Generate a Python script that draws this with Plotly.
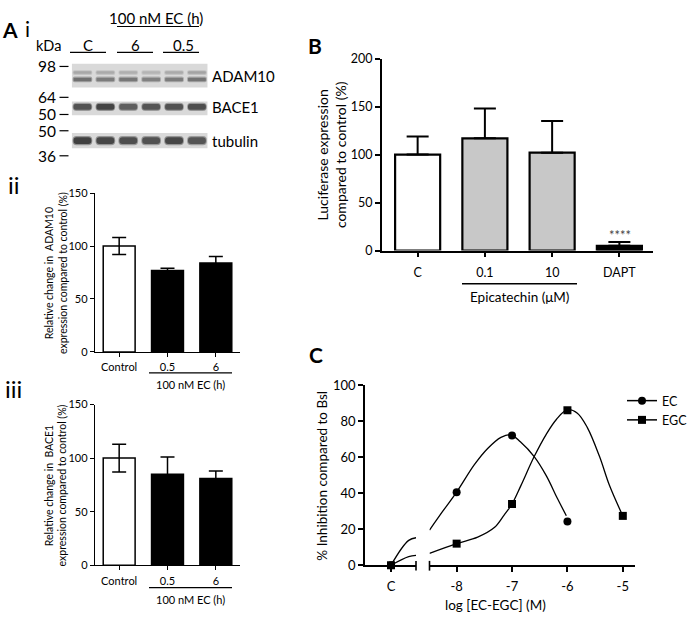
import plotly.graph_objects as go

W, H = 693, 621
def px(x): return x / W
def py(y): return 1 - y / H

FONT = "Lato"

# ---------------- data ----------------
# A i: western blot (relative band darkness per lane)
lanes = [1, 2, 3, 4, 5, 6]
adam10_upper = [0.30, 0.28, 0.25, 0.22, 0.28, 0.32]
adam10_lower = [0.62, 0.55, 0.58, 0.52, 0.55, 0.60]
bace1_band = [0.80, 0.88, 0.72, 0.78, 0.80, 0.82]
tubulin_band = [0.90, 0.86, 0.82, 0.80, 0.86, 0.78]
kda_labels = ["98", "64", "50", "50", "36"]
blot_proteins = ["ADAM10", "BACE1", "tubulin"]
lane_groups = ["C", "6", "0.5"]

# A ii / iii
a_cats = ["Control", "0.5", "6"]
adam10_mean = [100, 77, 84]
adam10_err = [8, 2, 6]
bace1_mean = [100, 85, 81]
bace1_err = [13, 16, 7]

# B
b_cats = ["C", "0.1", "10", "DAPT"]
luc_mean = [100, 117, 102, 5]
luc_err = [19, 31, 33, 4]

# C
c_label = ["C"]
c_control = [0]
doses = [-8, -7, -6, -5]
ec_vals = [40.5, 72, 24.3]
egc_vals = [12, 34, 86, 27.4]
# fitted curves
ec_fit1_x = [0, 0.32, 0.49]
ec_fit1_y = [0, 13.8, 15.4]
egc_fit1_x = [0, 0.32, 0.49]
egc_fit1_y = [0, 4.8, 5.5]
ec_fit2_x = [-8.49, -8.25, -8.0, -7.68, -7.44, -7.2, -7.02, -6.85, -6.6, -6.38, -6.18, -6.02]
ec_fit2_y = [19.5, 30, 40.6, 55.8, 64.8, 71.0, 72.4, 68.5, 60.3, 49.6, 37, 27.5]
egc_fit2_x = [-8.49, -8.0, -7.62, -7.32, -7.14, -7.0, -6.84, -6.6, -6.38, -6.2, -6.0,
              -5.82, -5.64, -5.42, -5.24, -5.0]
egc_fit2_y = [6.6, 12, 15.6, 20.9, 28, 34, 44.2, 60.3, 72.8, 80.9, 86.3,
              84.4, 76.4, 60.3, 44.2, 27.4]

# ---------------- figure ----------------
fig = go.Figure()

def gray(i):
    g = int(218 - 170 * i)
    return f"rgb({g},{g},{g})"

def halo(i):
    g = int(218 - 80 * i)
    return f"rgb({g},{g},{g})"

# blot strips
fig.add_trace(go.Bar(x=[3.5, 3.5, 3.5], base=[57.3, 96, 128.3], y=[24.4, 14, 15.7],
                     width=5.92, marker=dict(color="#d9d9d9", line=dict(width=0)),
                     xaxis="x", yaxis="y", showlegend=False, hoverinfo="skip"))
# bands: (values, centre, height)
for vals, c, h in [(adam10_upper, 66.3, 2.6), (adam10_lower, 73.3, 3.6),
                   (bace1_band, 101.5, 6.0), (tubulin_band, 136.2, 7.0)]:
    fig.add_trace(go.Bar(x=lanes, base=[c - h / 2 - 1.2] * 6, y=[h + 2.4] * 6, width=0.86,
                         marker=dict(color=[halo(v) for v in vals], line=dict(width=0), cornerradius=4),
                         xaxis="x", yaxis="y", showlegend=False, hoverinfo="skip"))
    fig.add_trace(go.Bar(x=lanes, base=[c - h / 2] * 6, y=[h] * 6, width=0.78,
                         marker=dict(color=[gray(v) for v in vals], line=dict(width=0), cornerradius=3),
                         xaxis="x", yaxis="y", showlegend=False, hoverinfo="skip"))

# A ii
fig.add_trace(go.Bar(x=[0, 1, 2], y=adam10_mean, width=0.66,
                     marker=dict(color=["white", "black", "black"], line=dict(color="black", width=1.5)),
                     error_y=dict(type="data", array=adam10_err, width=7, thickness=1.5, color="black"),
                     xaxis="x2", yaxis="y2", showlegend=False))
# A iii
fig.add_trace(go.Bar(x=[0, 1, 2], y=bace1_mean, width=0.66,
                     marker=dict(color=["white", "black", "black"], line=dict(color="black", width=1.5)),
                     error_y=dict(type="data", array=bace1_err, width=7, thickness=1.5, color="black"),
                     xaxis="x3", yaxis="y3", showlegend=False))
# B
fig.add_trace(go.Bar(x=[0, 1, 2, 3], y=luc_mean, width=0.67,
                     marker=dict(color=["white", "#c8c8c8", "#c8c8c8", "black"],
                                 line=dict(color="black", width=2.2)),
                     error_y=dict(type="data", symmetric=False, array=luc_err, arrayminus=[0, 0, 0, 0],
                                  width=11, thickness=2, color="black"),
                     xaxis="x4", yaxis="y4", showlegend=False))

# C fits
line_style = dict(color="black", width=1.3, shape="spline")
for fx, fy in [(ec_fit1_x, ec_fit1_y), (egc_fit1_x, egc_fit1_y)]:
    fig.add_trace(go.Scatter(x=fx, y=fy, mode="lines", line=line_style,
                             xaxis="x5", yaxis="y5", showlegend=False, hoverinfo="skip"))
for fx, fy in [(ec_fit2_x, ec_fit2_y), (egc_fit2_x, egc_fit2_y)]:
    fig.add_trace(go.Scatter(x=fx, y=fy, mode="lines", line=line_style,
                             xaxis="x6", yaxis="y5", showlegend=False, hoverinfo="skip"))
# C points
fig.add_trace(go.Scatter(x=doses[:3], y=ec_vals, mode="markers", cliponaxis=False,
                         marker=dict(symbol="circle", size=8, color="black"),
                         xaxis="x6", yaxis="y5", showlegend=False))
fig.add_trace(go.Scatter(x=doses, y=egc_vals, mode="markers", cliponaxis=False,
                         marker=dict(symbol="square", size=8, color="black"),
                         xaxis="x6", yaxis="y5", showlegend=False))
fig.add_trace(go.Scatter(x=[0], y=c_control, mode="markers", cliponaxis=False,
                         marker=dict(symbol="circle", size=8, color="black"),
                         xaxis="x5", yaxis="y5", showlegend=False))
fig.add_trace(go.Scatter(x=[0], y=c_control, mode="markers", cliponaxis=False,
                         marker=dict(symbol="square", size=8, color="black"),
                         xaxis="x5", yaxis="y5", showlegend=False))
# legend entries
fig.add_trace(go.Scatter(x=[None], y=[None], mode="lines+markers", name="EC",
                         marker=dict(symbol="circle", size=8, color="black"),
                         line=dict(color="black", width=1.5), xaxis="x6", yaxis="y5"))
fig.add_trace(go.Scatter(x=[None], y=[None], mode="lines+markers", name="EGC",
                         marker=dict(symbol="square", size=8, color="black"),
                         line=dict(color="black", width=1.5), xaxis="x6", yaxis="y5"))

# ---------------- axes ----------------
def ax(domain, rng, lw=1.4, tl=4, font=11, **kw):
    d = dict(domain=domain, range=rng, showgrid=False, zeroline=False, showline=True,
             linecolor="black", linewidth=lw, ticks="outside", ticklen=tl, tickwidth=lw,
             tickcolor="black", tickfont=dict(family=FONT, size=font, color="black"),
             fixedrange=True)
    d.update(kw)
    return d

hidden = dict(visible=False, showgrid=False, zeroline=False, fixedrange=True)

layout = dict(
    width=W, height=H, margin=dict(l=0, r=0, t=0, b=0),
    paper_bgcolor="white", plot_bgcolor="rgba(0,0,0,0)",
    barmode="overlay", font=dict(family=FONT, color="black"),
    xaxis=dict(domain=[px(71), px(208.4)], range=[0.5, 6.5], anchor="y", **hidden),
    yaxis=dict(domain=[py(160), py(50)], range=[160, 50], anchor="x", **hidden),
    xaxis2=ax([px(95), px(240)], [-0.5, 2.5], anchor="y2", tickvals=[0, 1, 2], ticktext=a_cats,
              ticklabelstandoff=1),
    yaxis2=ax([py(353), py(190)], [0, 150], anchor="x2", tickvals=[0, 50, 100, 150]),
    xaxis3=ax([px(95), px(240)], [-0.5, 2.5], anchor="y3", tickvals=[0, 1, 2], ticktext=a_cats,
              ticklabelstandoff=1),
    yaxis3=ax([py(572), py(407)], [0, 150], anchor="x3", tickvals=[0, 50, 100, 150]),
    xaxis4=ax([px(382), px(653)], [-0.53, 3.5], lw=1.8, tl=5, font=12.5, anchor="y4",
              tickvals=[0, 1, 2, 3], ticktext=b_cats, ticklabelstandoff=5),
    yaxis4=ax([py(249), py(52)], [0, 200], lw=1.8, tl=5, font=12.5, anchor="x4",
              tickvals=[0, 50, 100, 150, 200]),
    xaxis5=ax([px(365), px(416)], [-0.47, 0.452], lw=1.8, tl=5, font=13, anchor="y5",
              tickvals=[0], ticktext=c_label, ticklabelstandoff=3),
    yaxis5=ax([py(572), py(387)], [0, 100], lw=1.8, tl=5, font=13, anchor="x5",
              tickvals=[0, 20, 40, 60, 80, 100]),
    xaxis6=ax([px(429.5), px(635)], [-8.49, -4.78], lw=1.8, tl=5, font=13, anchor="y5",
              tickvals=doses, ticktext=[str(d) for d in doses], ticklabelstandoff=3),
    legend=dict(x=px(622), y=py(388), xanchor="left", yanchor="top",
                font=dict(family=FONT, size=12.5, color="black"), itemwidth=30,
                bgcolor="rgba(0,0,0,0)", tracegroupgap=0),
)
fig.update_layout(**layout)

# ---------------- annotations & shapes ----------------
ann = []
shapes = []

def text(x, y, s, size, bold=False, anchor="center", angle=0, color="black"):
    ann.append(dict(x=px(x), y=py(y), xref="paper", yref="paper", text=f"<b>{s}</b>" if bold else s,
                    showarrow=False, xanchor=anchor, yanchor="middle", textangle=angle,
                    font=dict(family=FONT, size=size, color=color)))

def hline(x0, x1, y, w=1.2):
    shapes.append(dict(type="line", xref="paper", yref="paper", x0=px(x0), x1=px(x1),
                       y0=py(y), y1=py(y), line=dict(color="black", width=w)))

def vline(x, y0, y1, w=1.6):
    shapes.append(dict(type="line", xref="paper", yref="paper", x0=px(x), x1=px(x),
                       y0=py(y0), y1=py(y1), line=dict(color="black", width=w)))

# panel letters
text(10, 22, "A", 21, bold=True)
text(27, 21, "i", 21)
text(14, 181, "ii", 24)
text(13, 391, "iii", 24)
text(315, 39, "B", 21, bold=True)
text(316, 356, "C", 21, bold=True)

# blot labels
text(156, 10, "100 nM EC (h)", 15)
hline(117, 199, 19)
text(48.5, 38, "kDa", 14.5)
for g, (cx, x0, x1) in zip(lane_groups, [(88, 70, 106), (135, 117, 153), (183, 163, 199)]):
    text(cx, 38, g, 15)
    hline(x0, x1, 45.5)
for k, yk in zip(kda_labels, [60, 91.7, 109.3, 126, 151.7]):
    text(58, yk, k, 15.5, anchor="right")
    hline(59.5, 68.5, yk)
for p, yp in zip(blot_proteins, [70, 101.7, 136.5]):
    text(210, yp, p, 15, anchor="left")

# A ii / iii extras
text(55.5, 271.5, "Relative change in  ADAM10<br>expression compared to control (%)", 10.5, angle=-90)
hline(149, 232, 374.5)
text(191, 386, "100 nM EC (h)", 11)
text(55.5, 489.5, "Relative change in  BACE1<br>expression compared to control (%)", 10.5, angle=-90)
hline(149, 232, 595)
text(191, 607, "100 nM EC (h)", 11)

# B extras
text(331.5, 150.5, "Luciferase expression<br>compared to control (%)", 14, angle=-90)
hline(462, 577, 283, 1.4)
text(519.5, 297, "Epicatechin (\u03bcM)", 13.5)
text(620, 233, "****", 13, color="#444444")

# C extras
text(322, 480, "% Inhibition compared to BsI", 13.5, angle=-90)
text(495, 613, "log [EC-EGC] (M)", 13.5)
vline(416, 567.5, 577.5)
vline(429.5, 567.5, 577.5)

fig.update_layout(annotations=ann, shapes=shapes)
# remove the browser's default 8px page margin so the figure sits at the window's origin
fig.write_html("out.html", config={"displayModeBar": False},
               post_script="document.body.style.margin='0px';")
